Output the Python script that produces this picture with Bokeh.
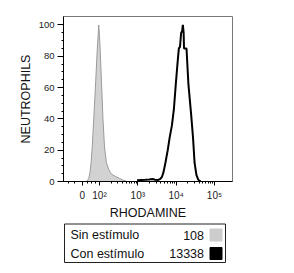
import math
from bokeh.plotting import figure
from bokeh.layouts import column
from bokeh.models import Range1d, FixedTicker, ColumnDataSource
from bokeh.core.properties import value
from bokeh.embed import file_html
from bokeh.resources import INLINE

# ---- data (x in display decades: 10^2 -> 2, 10^3 -> 3, ...; "0" sits at 1.55) ----
sin_x = [1.65, 1.68, 1.72, 1.75, 1.78, 1.81, 1.85, 1.90, 1.94, 1.98, 2.01, 2.05,
         2.09, 2.13, 2.18, 2.24, 2.29, 2.33, 2.42, 2.52, 2.62, 2.72]
sin_y = [0, 0.5, 2, 5.6, 12, 22, 40, 64, 84, 100, 88, 64,
         40, 22, 12, 7.7, 5.5, 4.4, 3.2, 2, 0.8, 0]

con_x = [2.98, 3.10, 3.20, 3.30, 3.38, 3.45, 3.52, 3.58, 3.63, 3.67, 3.72, 3.78,
         3.83, 3.89, 3.94, 3.99, 4.03, 4.07, 4.10, 4.13, 4.155, 4.175, 4.195,
         4.205, 4.27, 4.32, 4.39, 4.44, 4.48, 4.53, 4.57, 4.60, 4.64]
con_y = [0.8, 1.0, 1.1, 1.3, 1.6, 1.1, 1.0, 1.5, 3, 6, 12, 20,
         28, 36, 46, 62, 74, 85, 86, 95, 96, 100, 95,
         85, 85, 62, 43, 28, 12, 4, 1.5, 0.5, 0]

x_tick_pos = [1.55, 2, 3, 4, 5]
x_tick_labels = ["0", "10²", "10³", "10⁴", "10⁵"]
y_ticks = [0, 20, 40, 60, 80, 100]

legend_labels = ["Sin estímulo", "Con estímulo"]
legend_mfi = ["108", "13338"]
legend_colors = ["#cccccc", "#000000"]

FONT = "Liberation Sans"

# ---- main histogram ----
p = figure(width=294, height=222, output_backend="svg", toolbar_location=None,
           x_range=Range1d(1.06, 5.47), y_range=Range1d(0, 105.4),
           min_border_left=63, min_border_right=62, min_border_top=16,
           min_border_bottom=38)
p.grid.visible = False
p.outline_line_color = "#777777"
p.outline_line_width = 1

p.patch(sin_x, sin_y, fill_color="#d2d2d2", line_color="#9a9a9a", line_width=1)
p.line(con_x, con_y, line_color="black", line_width=2)

# x axis
minor_x = [1.2, 1.35, 1.68, 1.8, 1.9]
for d in (2, 3, 4):
    for k in range(2, 10):
        minor_x.append(d + math.log10(k))
p.xaxis.ticker = FixedTicker(ticks=x_tick_pos, minor_ticks=minor_x)
p.xaxis.major_label_overrides = dict(zip(x_tick_pos, x_tick_labels))
p.xaxis.axis_label = "RHODAMINE"

# y axis
p.yaxis.ticker = FixedTicker(ticks=y_ticks, minor_ticks=list(range(0, 105, 5)))
p.yaxis.axis_label = "NEUTROPHILS"

for ax in (p.xaxis[0], p.yaxis[0]):
    ax.axis_line_color = "black"
    ax.major_tick_line_color = "black"
    ax.minor_tick_line_color = "black"
    ax.major_tick_in = 0
    ax.minor_tick_in = 0
    ax.major_label_text_font = FONT
    ax.major_label_text_color = "#222222"
    ax.axis_label_text_font = FONT
    ax.axis_label_text_font_style = "normal"
    ax.axis_label_text_color = "#111111"
    ax.axis_label_text_font_size = "12.5px"

p.xaxis.major_tick_out = 4
p.xaxis.minor_tick_out = 2
p.xaxis.major_label_standoff = 4
p.xaxis.major_label_text_font_size = "10px"
p.xaxis.axis_label_standoff = 2

p.yaxis.major_tick_out = 6
p.yaxis.minor_tick_out = 2
p.yaxis.major_label_standoff = 3
p.yaxis.major_label_text_font_size = "9.5px"
p.yaxis.axis_label_standoff = 3

# ---- legend box below (its frame is aligned with the main frame: x 63..232 px) ----
leg = figure(width=294, height=51, output_backend="svg", toolbar_location=None,
             x_range=Range1d(63, 232), y_range=Range1d(51, 0),
             x_axis_location=None, y_axis_location=None,
             min_border=0, min_border_left=63, min_border_right=62,
             min_border_top=0, min_border_bottom=0)
leg.grid.visible = False
leg.outline_line_color = None

row_y = [12.5 + 18.5 * i for i in range(len(legend_labels))]
leg.quad(left=[64], right=[225], top=[1.5], bottom=[40],
         fill_color=None, line_color="#222222", line_width=1)
src = ColumnDataSource(dict(y=row_y, lab=legend_labels, mfi=legend_mfi,
                            col=legend_colors))
leg.text(x=70, y="y", text="lab", source=src, text_font=value(FONT),
         text_font_size="12.5px", text_baseline="middle", text_align="left",
         text_color="#111111")
leg.text(x=203.5, y="y", text="mfi", source=src, text_font=value(FONT),
         text_font_size="12.5px", text_baseline="middle", text_align="right",
         text_color="#111111")
leg.rect(x=215.5, y="y", width=12, height=12, source=src,
         fill_color="col", line_color="col")

layout = column(p, leg, spacing=0)
open("out.html", "w").write(file_html(layout, INLINE))
